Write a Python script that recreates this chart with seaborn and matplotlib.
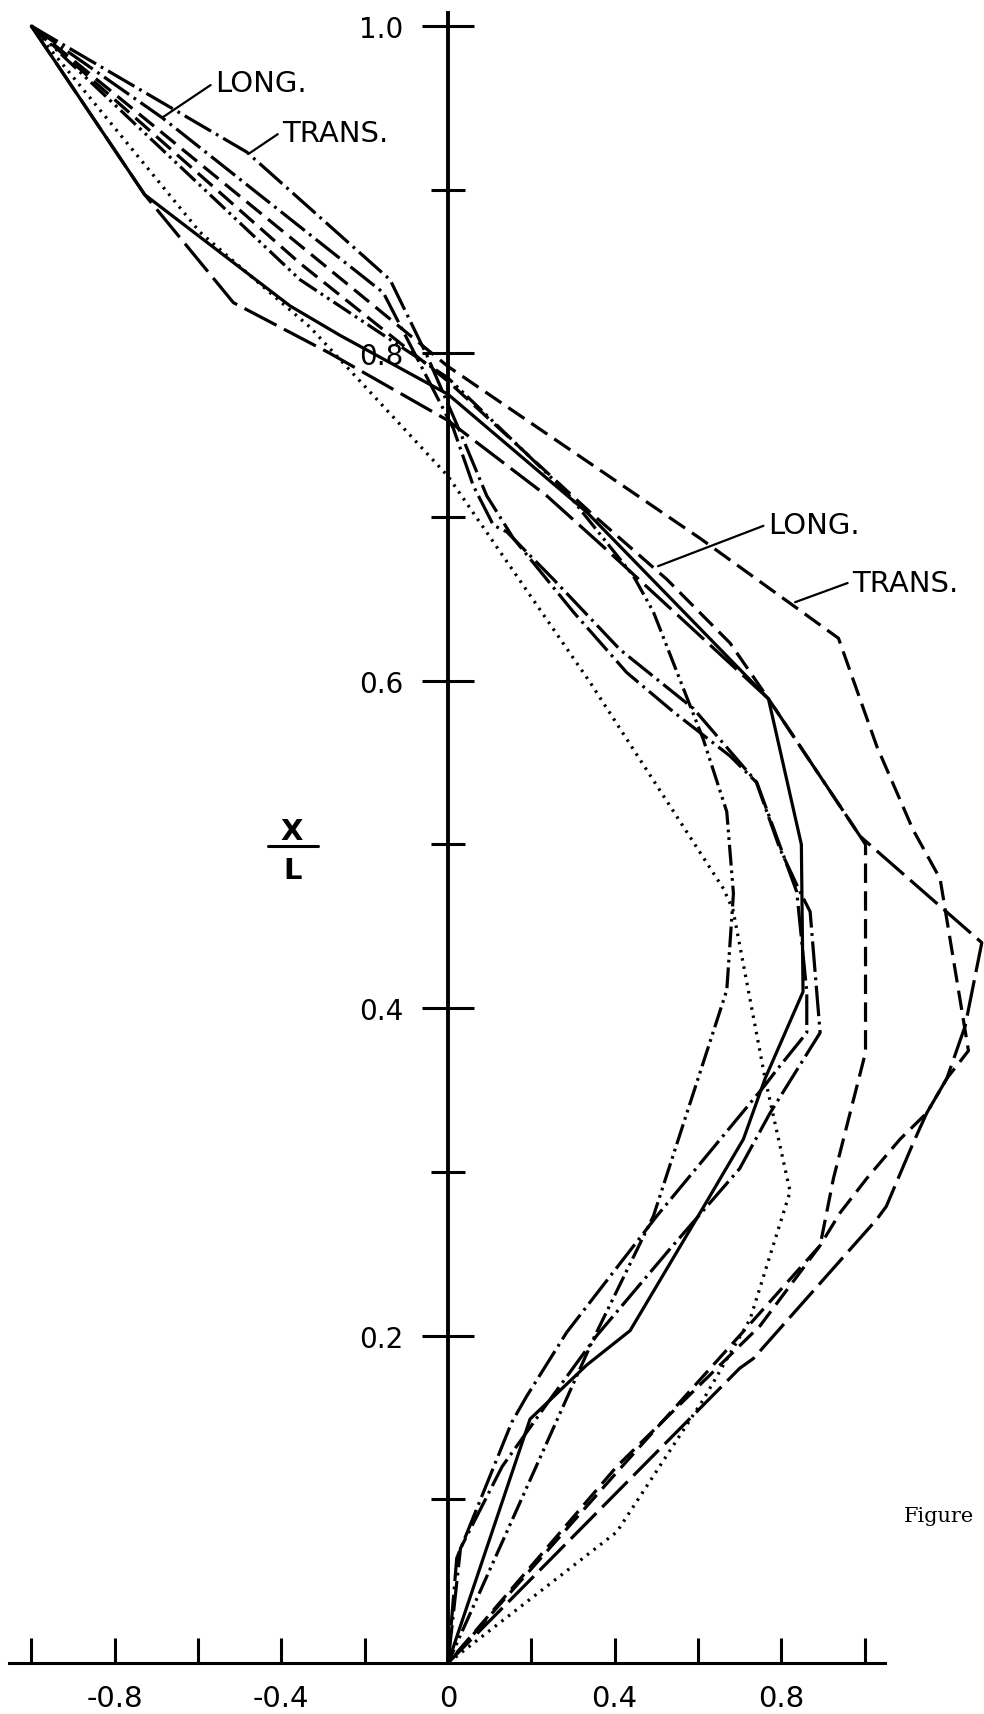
import matplotlib
matplotlib.use("Agg")
import matplotlib.pyplot as plt
import numpy as np
import pandas as pd
import seaborn as sns
from matplotlib.lines import Line2D
from matplotlib.ticker import FixedLocator, FixedFormatter, NullFormatter

# ---- mode-shape curves: deflection (x) against station x/L (y) ----
solid_x = [-1.0, -0.728, -0.379, -0.259, 0.0, 0.333, 0.769, 0.848, 0.852, 0.761, 0.709, 0.605, 0.437, 0.333, 0.197, 0.0]
solid_y = [1.0, 0.897, 0.829, 0.811, 0.775, 0.703, 0.589, 0.500, 0.410, 0.357, 0.320, 0.275, 0.203, 0.182, 0.149, 0.0]

longdash_x = [-1.0, -0.728, -0.515, -0.283, 0.0, 0.237, 0.381, 0.769, 0.989, 1.281, 1.241, 1.197, 1.149, 1.117, 1.052, 1.029, 0.733, 0.700, 0.0]
longdash_y = [1.0, 0.897, 0.831, 0.800, 0.759, 0.713, 0.680, 0.589, 0.505, 0.440, 0.389, 0.357, 0.336, 0.318, 0.279, 0.271, 0.186, 0.180, 0.0]

dash_trans_x = [-1.0, -0.355, 0.0, 0.605, 0.937, 1.029, 1.116, 1.181, 1.249, 1.197, 1.149, 1.085, 1.005, 0.941, 0.893, 0.749, 0.405, 0.0]
dash_trans_y = [1.0, 0.866, 0.792, 0.687, 0.626, 0.560, 0.509, 0.479, 0.374, 0.357, 0.336, 0.320, 0.296, 0.275, 0.255, 0.206, 0.120, 0.0]

dash_long_x = [-1.0, -0.355, 0.0, 0.341, 0.525, 0.677, 0.769, 0.989, 1.002, 1.002, 0.925, 0.893, 0.700, 0.400, 0.0]
dash_long_y = [1.0, 0.855, 0.783, 0.703, 0.662, 0.623, 0.589, 0.505, 0.500, 0.373, 0.296, 0.255, 0.200, 0.115, 0.0]

dashdot_trans_x = [-1.0, -0.483, -0.139, -0.051, 0.029, 0.093, 0.157, 0.301, 0.429, 0.541, 0.677, 0.740, 0.797, 0.845, 0.869, 0.893, 0.773, 0.700, 0.533, 0.357, 0.245, 0.130, 0.030, 0.0]
dashdot_trans_y = [1.0, 0.923, 0.845, 0.799, 0.752, 0.713, 0.687, 0.642, 0.605, 0.581, 0.554, 0.538, 0.497, 0.471, 0.459, 0.385, 0.336, 0.302, 0.253, 0.200, 0.161, 0.120, 0.070, 0.0]

dashdot_long_x = [-1.0, -0.686, -0.155, 0.013, 0.061, 0.109, 0.141, 0.253, 0.413, 0.589, 0.741, 0.837, 0.861, 0.861, 0.785, 0.761, 0.501, 0.285, 0.189, 0.153, 0.021, 0.0]
dashdot_long_y = [1.0, 0.944, 0.837, 0.754, 0.719, 0.695, 0.691, 0.662, 0.619, 0.583, 0.538, 0.471, 0.410, 0.385, 0.361, 0.353, 0.273, 0.202, 0.163, 0.147, 0.064, 0.0]

dashdotdot_x = [-1.0, -0.355, 0.0, 0.285, 0.445, 0.493, 0.613, 0.669, 0.685, 0.669, 0.493, 0.349, 0.0]
dashdotdot_y = [1.0, 0.845, 0.785, 0.715, 0.664, 0.642, 0.564, 0.520, 0.470, 0.411, 0.273, 0.198, 0.0]

dotted_x = [-1.0, -0.595, -0.331, 0.0, 0.341, 0.661, 0.684, 0.761, 0.821, 0.725, 0.613, 0.405, 0.0]
dotted_y = [1.0, 0.874, 0.816, 0.725, 0.599, 0.473, 0.460, 0.357, 0.288, 0.210, 0.161, 0.080, 0.0]

curves = {
    "solid": (solid_x, solid_y),
    "longdash": (longdash_x, longdash_y),
    "dash_trans": (dash_trans_x, dash_trans_y),
    "dash_long": (dash_long_x, dash_long_y),
    "dashdot_trans": (dashdot_trans_x, dashdot_trans_y),
    "dashdot_long": (dashdot_long_x, dashdot_long_y),
    "dashdotdot": (dashdotdot_x, dashdotdot_y),
    "dotted": (dotted_x, dotted_y),
}

# dash patterns in points (on, off, ...)
dash_map = {
    "solid": "",
    "longdash": (26, 6),
    "dash_trans": (14, 6),
    "dash_long": (14, 6),
    "dashdot_trans": (22, 4, 2, 4),
    "dashdot_long": (22, 4, 2, 4),
    "dashdotdot": (15, 3.5, 2, 3.5, 2, 3.5),
    "dotted": (1.8, 4.2),
}

# axis ticks and labels
x_major = [-0.8, -0.4, 0.0, 0.4, 0.8]
x_major_labels = ["-0.8", "-0.4", "0", "0.4", "0.8"]
x_minor = [-1.0, -0.6, -0.2, 0.2, 0.6, 1.0]
y_major = [0.2, 0.4, 0.6, 0.8, 1.0]
y_major_labels = ["0.2", "0.4", "0.6", "0.8", "1.0"]
y_minor = [0.1, 0.3, 0.5, 0.7, 0.9]

# curve labels: text anchor and the point on the curve the leader touches
label_texts = ["LONG.", "TRANS.", "LONG.", "TRANS."]
label_text_x = [-0.559, -0.398, 0.768, 0.970]
label_text_y = [0.960, 0.930, 0.690, 0.655]
label_point_x = [-0.686, -0.478, 0.504, 0.833]
label_point_y = [0.944, 0.922, 0.670, 0.648]

# ---- build long-form table ----
rows = []
for name, (xs, ys) in curves.items():
    for i, (xv, yv) in enumerate(zip(xs, ys)):
        rows.append({"curve": name, "order": i, "x": xv, "y": yv})
df = pd.DataFrame(rows)

sns.set_style("white")
plt.rcParams["font.family"] = ["DejaVu Sans"]
plt.rcParams["lines.scale_dashes"] = False

fig = plt.figure(figsize=(9.84, 17.15), dpi=100)
ax = fig.add_axes([0, 0, 1, 1])
ax.set_facecolor("white")

sns.lineplot(
    data=df, x="x", y="y", units="curve", style="curve", dashes=dash_map,
    estimator=None, sort=False, color="black", linewidth=2.3,
    legend=False, ax=ax,
)

ax.set_xlim(-1.0751, 1.2863)
ax.set_ylim(-0.0312, 1.0165)
ax.set_xlabel("")
ax.set_ylabel("")

# axes crossing at the origin
for side in ("top", "right"):
    ax.spines[side].set_visible(False)
ax.spines["left"].set_position(("data", 0))
ax.spines["left"].set_bounds(0, 1.008)
ax.spines["left"].set_linewidth(2.8)
ax.spines["bottom"].set_position(("data", 0))
ax.spines["bottom"].set_bounds(-1.054, 1.049)
ax.spines["bottom"].set_linewidth(2.2)
for sp in ("left", "bottom"):
    ax.spines[sp].set_color("black")

ax.xaxis.set_major_locator(FixedLocator(x_major))
ax.xaxis.set_major_formatter(FixedFormatter(x_major_labels))
ax.xaxis.set_minor_locator(FixedLocator(x_minor))
ax.xaxis.set_minor_formatter(NullFormatter())
ax.yaxis.set_major_locator(FixedLocator(y_major))
ax.yaxis.set_major_formatter(FixedFormatter(y_major_labels))
ax.yaxis.set_minor_locator(FixedLocator(y_minor))
ax.yaxis.set_minor_formatter(NullFormatter())

ax.tick_params(axis="x", which="both", direction="in", length=18, width=2.2,
               color="black", bottom=True, top=False)
ax.tick_params(axis="x", which="major", pad=15, labelsize=21, labelcolor="black")
ax.tick_params(axis="y", which="major", direction="inout", length=37.5, width=2.2,
               pad=13.5, labelsize=20, color="black", labelcolor="black", left=True, right=False)
ax.tick_params(axis="y", which="minor", direction="inout", length=24.5, width=2.2,
               color="black", left=True, right=False)

# curve labels with leader lines
for txt, tx, ty, px, py in zip(label_texts, label_text_x, label_text_y, label_point_x, label_point_y):
    ax.annotate(txt, xy=(px, py), xytext=(tx, ty), textcoords="data",
                ha="left", va="baseline", fontsize=21, color="black",
                arrowprops=dict(arrowstyle="-", color="black", lw=1.6,
                                relpos=(0.0, 0.55), shrinkA=1, shrinkB=0))

# X/L axis title drawn as a stacked fraction
fig.text(292 / 984, 1 - 840 / 1715, "X", ha="center", va="baseline",
         fontsize=21, fontweight="bold", color="black")
fig.text(293 / 984, 1 - 879 / 1715, "L", ha="center", va="baseline",
         fontsize=21, fontweight="bold", color="black")
fig.add_artist(Line2D([268 / 984, 318 / 984], [1 - 847 / 1715, 1 - 847 / 1715],
                      transform=fig.transFigure, color="black", lw=2.2))

fig.text(904 / 984, 1 - 1522 / 1715, "Figure", ha="left", va="baseline",
         fontsize=15, family="DejaVu Serif", color="black")

fig.savefig("out.png", dpi=100, facecolor="white")
